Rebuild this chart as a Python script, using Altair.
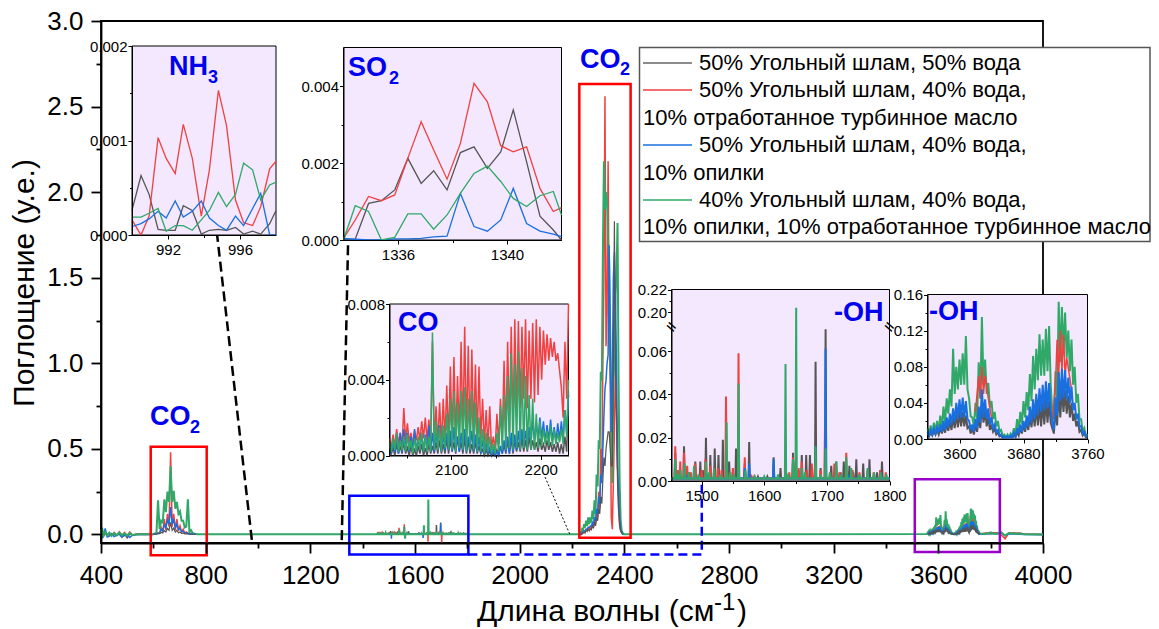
import altair as alt
import pandas as pd

FONT = "Liberation Sans"
X0, Y0, W, H = 101, 21, 942, 522
BLACK, RED, BLUE, GREEN = "#555555", "#F04040", "#1A6FE0", "#30A868"
LAV = "#F3E8FD"

# ---------- NH3 inset ----------
nh3_x = [990.0,990.5,990.95,991.45,991.9,992.4,992.85,993.35,993.85,994.3,994.8,995.25,995.75,996.2,996.7,997.15,997.65,998.0]
nh3_red = [.00016,0,.0002,.00103,.00081,.00065,.00117,.00081,.0002,.00069,.00153,.00116,.00037,.00013,.0001,.0003,.0007,.00078]
nh3_black = [.00026,.00063,.00043,.00006,.00005,.00005,.00031,.00026,.00001,.00005,.00006,.00005,.00008,.00001,.00004,.00001,.00012,.00026]
nh3_blue = [.00009,.00012,.00017,.00025,.00018,.00036,.00019,.00025,.00036,.00018,.0001,.00005,.0002,.0001,.00028,.00044,0,0]
nh3_green = [.00019,.00019,.00023,.00028,.00004,.0001,.0001,.00005,.00016,.00026,.00045,.0003,.00043,.00076,.00069,.00037,.00053,.00056]

# ---------- SO2 inset ----------
so2_x = [1334,1334.43,1334.92,1335.39,1335.88,1336.36,1336.85,1337.31,1337.8,1338.29,1338.79,1339.28,1339.77,1340.23,1340.72,1341.21,1341.7,1342]
so2_red = [.00004,.00052,.00113,.00102,.00117,.00212,.00307,.00234,.00158,.00251,.00407,.00359,.00245,.00229,.00242,.00134,.00074,.00084]
so2_black = [0,.00002,.00095,.00102,.0013,.00212,.00147,.0018,.0013,.00227,.00242,.00186,.00229,.00338,.00203,.00062,.00026,0]
so2_blue = [.00004,.00002,0,0,.00003,.00003,.00004,.00008,.0001,.00121,.00035,.00023,.00052,.00134,.00043,.00023,.00015,.00009]
so2_green = [0,.00089,.00074,0,.00007,.00068,.00068,.00028,.00065,.00121,.00173,.00192,.00152,.00108,.00087,.00115,.00126,.00065]

# ---------- CO inset, 1e-4 units, wavenumbers 2031, 2033 ... 2231 ----------
co_x = list(range(2031, 2232, 2))
co_red = [9,4,11,5,14,6,12,5,25,8,17,7,12,6,13,8,15,8,18,9,
          20,8,19,6,60,5,26,6,28,5,30,8,37,7,47,8,52,8,42,10,
          60,9,68,10,58,8,56,9,48,8,47,8,30,6,24,5,26,4,10,3,
          22,6,30,8,50,9,60,12,68,14,72,20,71,25,68,30,72,25,66,30,
          70,28,72,32,68,40,66,48,64,50,62,52,60,50,54,45,36,20,60,30,80]
co_green = [7,2,9,3,12,2,8,3,10,2,11,3,8,1,9,2,10,3,12,2,
            10,2,10,2,65,3,18,3,15,2,16,4,22,3,30,3,34,2,28,4,
            34,3,36,2,30,3,34,3,28,2,20,2,14,1,12,2,10,1,6,1,
            12,2,26,3,32,3,42,4,54,3,48,4,55,3,46,4,42,3,32,3,
            30,3,22,4,18,5,14,6,13,5,16,5,14,6,12,7,14,6,24,10,40]
co_blue = [6,1,8,2,10,1,12,2,14,3,12,2,10,3,14,2,9,3,12,2,
           11,2,16,3,12,2,13,3,16,2,11,3,12,3,13,2,15,3,10,2,
           12,3,14,2,10,3,13,2,11,2,10,1,8,1,7,1,4,0,3,0,
           2,0,5,1,8,2,10,1,12,2,11,3,13,3,14,4,13,5,15,6,
           19,8,17,8,20,9,18,7,16,8,19,8,15,7,17,8,18,9,24,12,32]
co_black = [5,1,4,0,6,1,5,1,7,1,4,0,5,0,3,0,5,1,6,0,
            4,0,6,1,5,1,7,1,8,1,6,1,9,1,8,2,7,1,10,2,
            7,1,9,1,8,1,6,1,7,1,5,1,3,0,3,0,2,0,1,0,
            3,0,5,1,6,1,8,1,9,1,8,2,7,2,9,2,8,2,10,3,
            8,3,7,2,9,3,6,2,8,3,7,2,6,2,7,1,6,1,10,2,34]

# ---------- 1450-1800 inset: spike positions and heights ----------
oh1_black_x = [1458,1472,1490,1498,1507,1514,1521,1527,1534,1544,1555,1569,1576,1615,1626,1646,1660,1667,1673,1682,1698,1707,1715,1727,1736,1747,1758,1768,1788,
               1480,1502,1540,1590,1605,1635,1655,1690,1722,1742,1780]
oh1_black_y = [.013,.016,.009,.009,.020,.012,.015,.012,.019,.009,.015,.008,.018,.011,.006,.013,.012,.012,.012,.055,.070,.007,.009,.009,.007,.010,.008,.010,.009,
               .004,.005,.006,.002,.002,.004,.005,.006,.004,.004,.004]
oh1_red_x = [1458,1466,1472,1477,1490,1506,1514,1526,1539,1550,1559,1569,1584,1615,1646,1650,1660,1676,1681,1697,1712,1731,1741,1765,1794,
             1462,1483,1500,1520,1532,1545,1580,1640,1655,1668,1690,1705,1720,1752,1775,1785]
oh1_red_y = [.016,.009,.013,.007,.008,.010,.007,.006,.039,.006,.059,.011,.002,.005,.011,.009,.009,.008,.007,.024,.008,.013,.005,.005,.004,
             .005,.004,.005,.005,.005,.004,.002,.004,.006,.005,.005,.004,.004,.004,.004,.005]
oh1_blue_x = [1476,1510,1520,1540,1569,1576,1615,1650,1698,1735]
oh1_blue_y = [.002,.002,.002,.003,.006,.008,.010,.003,.061,.002]
oh1_green_x = [1458,1466,1473,1488,1507,1520,1540,1559,1570,1634,1646,1651,1660,1682,1698,1715,1731,1739,1765,1786,
               1462,1480,1495,1512,1530,1546,1552,1585,1600,1622,1638,1665,1690,1705,1722,1752,1775,1795]
oh1_green_y = [.010,.005,.008,.007,.009,.006,.027,.045,.005,.054,.010,.204,.006,.016,.015,.009,.011,.006,.006,.004,
               .003,.004,.003,.004,.003,.004,.003,.002,.002,.003,.003,.004,.003,.004,.003,.003,.004,.003]

# ---------- 3560-3760 inset, 1e-3 units, wavenumbers 3560, 3562 ... 3760 ----------
oh2_x = list(range(3560, 3761, 2))
oh2_green = [12,5,15,6,18,8,20,9,26,12,36,18,45,28,55,36,100,50,80,55,
             88,60,95,60,114,55,45,25,24,14,40,22,85,45,135,60,88,50,62,35,
             42,22,30,14,20,8,10,4,5,2,5,2,6,3,12,5,22,10,30,16,
             42,24,52,32,72,42,92,55,100,65,116,70,110,70,122,75,125,60,30,22,
             75,45,152,85,146,95,140,90,120,75,110,60,80,40,50,22,22,8,12,4,5]
oh2_blue = [8,4,10,5,12,6,13,7,16,8,20,10,24,13,28,16,34,19,40,22,
            44,24,46,24,42,22,20,10,16,8,22,12,36,18,55,24,44,22,34,16,
            24,12,16,8,10,4,5,2,3,1,3,1,4,2,7,3,12,6,16,8,
            20,11,26,14,36,18,44,22,50,26,56,30,60,32,64,34,62,32,18,10,
            46,26,74,42,78,45,76,44,68,40,58,32,40,22,28,14,14,6,8,3,3]
oh2_black = [6,3,7,4,9,5,10,5,12,6,14,7,17,9,20,10,24,12,28,13,
             30,14,30,14,26,12,14,6,12,5,16,8,24,12,38,18,32,14,24,10,
             16,8,11,5,7,3,4,1,2,1,2,1,3,1,5,2,8,4,12,6,
             16,8,20,10,26,13,30,14,36,15,38,14,40,16,44,18,42,18,12,6,
             34,15,52,24,56,30,54,28,48,24,40,20,28,14,20,8,10,4,6,2,2]
oh2_red_x = [3560,3590,3608,3620,3624,3626,3628,3630,3632,3636,3640,3650,3660,3680,3700,3712,3716,3720,3722,3724,3726,3728,3730,3732,3734,3740,3750,3760]
oh2_red = [9,35,50,30,70,45,80,50,70,45,24,8,3,30,55,70,20,60,110,70,120,75,115,70,90,55,18,3]

# ---------- main spectrum: 600-762 band, 1e-3 units ----------
a_x = list(range(600, 763, 6))
a_green = [3,6,10,200,30,80,70,205,130,250,190,400,190,255,150,190,120,135,80,80,40,45,205,12,25,8,5,2]
a_blue = [1,2,4,6,8,30,20,55,40,85,60,160,60,90,40,60,30,35,18,18,8,10,6,4,3,2,1,1]
a_black = [1,1,2,4,5,12,8,22,14,35,24,70,24,38,14,24,10,14,6,8,3,4,3,2,1,1,1,1]
a_red = [1,3,5,10,8,40,15,90,25,120,45,480,45,120,25,90,20,50,12,30,8,15,8,5,4,3,2,1]

# ---------- main spectrum: 2230-2394 band, 1e-2 units ----------
b_x = list(range(2230, 2395, 4))
b_green = [1,1,3,2,6,4,8,5,10,6,10,7,14,9,20,12,35,28,55,50,95,90,165,218,190,200,195,170,160,120,70,30,90,100,140,150,182,90,30,8,2,1]
b_blue = [0,0,1,1,2,2,3,3,4,4,5,5,7,6,10,8,15,12,22,18,35,30,50,70,85,90,100,105,169,110,60,90,150,165,140,100,40,25,10,3,1,0]
b_black = [0,0,0,1,1,1,2,2,3,2,3,3,5,4,7,5,10,8,15,12,22,18,32,45,40,50,55,60,60,50,40,40,100,183,100,70,30,15,6,2,1,0]
b_red = [0,0,1,1,2,1,3,2,4,3,4,3,6,4,9,6,14,10,25,15,50,35,100,150,256,110,130,218,130,90,10,3,30,60,100,70,40,15,5,2,1,0]

# ---------- main spectrum: low noise at the two ends, 1e-3 units ----------
n1_x = [400,404,410,416,424,432,440,450,460,470,480,490,500,510,520,540,600]
n1_green = [0,40,-5,15,-5,10,-8,8,-5,12,-4,6,-6,8,-3,1,2]
n1_blue = [0,-20,-10,35,-15,-10,5,-12,-5,3,-14,-6,-3,-18,-4,0,0]
n1_black = [0,10,-8,5,-10,6,-6,4,-6,3,-16,5,-20,3,-4,1,0]
n1_red = [0,15,-6,10,-5,8,-6,12,-4,16,-6,12,-8,15,-3,2,1]
n2_x = [3760,3780,3800,3820,3840,3855,3870,3890,3910,3930,4000]
n2_green = [5,4,8,3,12,-6,8,4,5,1,0]
n2_red = [3,8,4,10,-2,-25,10,6,8,3,0]
n2_black = [3,4,12,5,14,-8,6,8,4,1,0]
n2_blue = [2,3,6,2,8,-5,3,2,1,0,0]
gap_x = [770,1000,1440,1802,2226,2398,3556]
gap_green = [.001,.001,.001,.001,.001,.001,.002]
dip_red_x, dip_red_y = [1650,1702], [-.043,-.05]
dip_blue_x, dip_blue_y = [1510,1631], [-.025,-.02]
dip_green_x, dip_green_y = [1562], [-.025]

legend_lines = ["50% Угольный шлам, 50% вода", "50% Угольный шлам, 40% вода,",
                "10% отработанное турбинное масло", "50% Угольный шлам, 40% вода,",
                "10% опилки", "40% Угольный шлам, 40% вода,",
                "10% опилки, 10% отработанное турбинное масло"]


def mul(v, k):
    return [round(a * k, 6) for a in v]


def spikes(xs, ys, lo=1452, hi=1800, floor=.0012):
    pts = [(lo, floor), (hi, floor)]
    for x, y in zip(xs, ys):
        pts += [(x - 1, floor), (x, y), (x + 1, floor)]
    pts.sort()
    return [p[0] for p in pts], [p[1] for p in pts]


def frame(*segs):
    rows = []
    for i, (xs, ys) in enumerate(segs):
        rows += [{"x": a, "y": b, "seg": i} for a, b in zip(xs, ys)]
    return pd.DataFrame(rows)


def scales(xd, xr, yd, yr):
    return (alt.Scale(domain=xd, range=[v - X0 for v in xr], nice=False, zero=False),
            alt.Scale(domain=yd, range=[v - Y0 for v in yr], nice=False, zero=False))


def series(df, sc, color, width=1.5):
    return alt.Chart(df).mark_line(color=color, strokeWidth=width, strokeJoin="miter", strokeMiterLimit=4).encode(
        x=alt.X("x:Q", scale=sc[0], axis=None),
        y=alt.Y("y:Q", scale=sc[1], axis=None),
        detail="seg:N")


def rect(sc, x1, x2, y1, y2, **kw):
    d = pd.DataFrame([{"x": x1, "x2": x2, "y": y1, "y2": y2}])
    return alt.Chart(d).mark_rect(**kw).encode(
        x=alt.X("x:Q", scale=sc[0], axis=None), x2="x2:Q",
        y=alt.Y("y:Q", scale=sc[1], axis=None), y2="y2:Q")


def axis_kw(values, fmt, size, tick, width, dom, labels=True, **kw):
    return alt.Axis(values=values, format=fmt, title=None, grid=False, labels=labels, domain=dom,
                    domainColor="black", domainWidth=width, tickColor="black", tickSize=tick, tickWidth=width,
                    labelFont=FONT, labelFontSize=size, labelColor="black", labelOverlap=False,
                    labelFlush=False, labelBound=False, zindex=1, **kw)


def axes(sc, xaxis, yaxis, xd, yd):
    d = pd.DataFrame([{"x": xd[0], "y": yd[0]}])
    return alt.Chart(d).mark_point(opacity=0, size=1).encode(
        x=alt.X("x:Q", scale=sc[0], axis=xaxis), y=alt.Y("y:Q", scale=sc[1], axis=yaxis))


def label(text, px, py, size=25, color="black", bold=False, align="left", angle=0):
    kw = {"angle": angle} if angle else {}
    return alt.Chart(alt.Data(values=[{}])).mark_text(
        text=text, font=FONT, fontSize=size, color=color, fontWeight="bold" if bold else "normal",
        align=align, baseline="middle", **kw).encode(x=alt.value(px - X0), y=alt.value(py - Y0))


def path(sc, xs, ys, color, width, dash=None):
    d = pd.DataFrame({"x": xs, "y": ys, "i": range(len(xs))})
    kw = {"strokeDash": dash} if dash else {}
    return alt.Chart(d).mark_line(color=color, strokeWidth=width, **kw).encode(
        x=alt.X("x:Q", scale=sc[0], axis=None), y=alt.Y("y:Q", scale=sc[1], axis=None), order="i:Q")


def inset(xd, xr, yd, yr, drawn, xmaj, xmin, ymaj, ymin, fmt):
    sc = scales(xd, xr, yd, yr)
    bottom, left = yr[0], xr[0]
    off_x = -(Y0 + H - bottom)
    off_y = -(left - X0)
    out = [rect(sc, xd[0], xd[-1], yd[0], yd[-1], fill=LAV, stroke="black", strokeWidth=1)]
    out += [series(df, sc, c, w) for df, c, w in drawn]
    out.append(axes(sc,
                    axis_kw(xmaj, "d", 15, 4, 1, True, orient="bottom", offset=off_x, labelPadding=3),
                    axis_kw(ymaj, fmt, 15, 4, 1, True, orient="left", offset=off_y, labelPadding=1),
                    xd, yd))
    out.append(axes(sc,
                    axis_kw(xmin, "d", 15, 2.5, 1, False, labels=False, orient="bottom", offset=off_x),
                    axis_kw(ymin, fmt, 15, 2.5, 1, False, labels=False, orient="left", offset=off_y),
                    xd, yd))
    return out, sc


layers = []

# main spectrum ----------------------------------------------------------
main_sc = (alt.Scale(domain=[400, 4000], range=[0, W], nice=False, zero=False),
           alt.Scale(domain=[-0.05, 3.0], range=[H, 0], nice=False, zero=False))

oh1_k = spikes(oh1_black_x, oh1_black_y)
oh1_r = spikes(oh1_red_x + dip_red_x, oh1_red_y + dip_red_y)
oh1_b = spikes(oh1_blue_x + dip_blue_x, oh1_blue_y + dip_blue_y)
oh1_g = spikes(oh1_green_x + dip_green_x, oh1_green_y + dip_green_y)

layers.append(series(frame((n1_x, mul(n1_black, .001)), oh1_k, (n2_x, mul(n2_black, .001))), main_sc, BLACK))
layers.append(series(frame((n1_x, mul(n1_red, .001)), (a_x, mul(a_red, .001)), oh1_r, (b_x, mul(b_red, .01)),
                           (oh2_red_x, mul(oh2_red, .001)), (n2_x, mul(n2_red, .001))), main_sc, RED))
layers.append(series(frame((n1_x, mul(n1_blue, .001)), oh1_b, (n2_x, mul(n2_blue, .001))), main_sc, BLUE))
green_x = n1_x + a_x + gap_x[:3] + oh1_g[0] + gap_x[3:5] + b_x + gap_x[5:] + oh2_x + n2_x
green_y = (mul(n1_green, .001) + mul(a_green, .001) + gap_green[:3] + oh1_g[1] + gap_green[3:5]
           + mul(b_green, .01) + gap_green[5:] + mul(oh2_green, .001) + mul(n2_green, .001))
layers.append(series(frame((green_x, green_y)), main_sc, GREEN, 2))
layers.append(series(frame((a_x, mul(a_blue, .001)), (b_x, mul(b_blue, .01)), (oh2_x, mul(oh2_blue, .001))), main_sc, BLUE, 1.5))
layers.append(series(frame((a_x, mul(a_black, .001)), (b_x, mul(b_black, .01)), (oh2_x, mul(oh2_black, .001))), main_sc, BLACK, 1.2))

layers.append(axes(main_sc,
                   axis_kw(list(range(400, 4001, 400)), "d", 26, 10, 1.8, True, orient="bottom", labelPadding=9),
                   axis_kw([0, .5, 1, 1.5, 2, 2.5, 3], ".1f", 26, 10, 1.8, True, orient="left", labelPadding=8),
                   [400, 4000], [-.05, 3]))
layers.append(axes(main_sc,
                   axis_kw(list(range(600, 4000, 400)), "d", 26, 5, 1.8, False, labels=False, orient="bottom"),
                   axis_kw([.25, .75, 1.25, 1.75, 2.25, 2.75], ".2f", 26, 5, 1.8, False, labels=False, orient="left"),
                   [400, 4000], [-.05, 3]))

# boxes and leader lines -------------------------------------------------
layers.append(rect(main_sc, 590, 804, -.121, .512, fillOpacity=0, stroke="#FF0000", strokeWidth=2.5))
layers.append(rect(main_sc, 1349, 1804, -.117, .226, fillOpacity=0, stroke="#0000FF", strokeWidth=2.5))
layers.append(rect(main_sc, 2228, 2424, -.02, 2.632, fillOpacity=0, stroke="#FF0000", strokeWidth=2.5))
layers.append(rect(main_sc, 3510, 3835, -.102, .323, fillOpacity=0, stroke="#9900CC", strokeWidth=2.5))
layers.append(path(main_sc, [1804, 2696, 2696], [-.117, -.117, .31], "#0000FF", 2.5, [9, 5]))
layers.append(path(main_sc, [836, 977], [1.855, -.04], "black", 2.5, [10, 5]))
layers.append(path(main_sc, [1344, 1320], [1.69, -.04], "black", 2.5, [10, 5]))
layers.append(path(main_sc, [2097, 2192], [.335, 0], "black", 1, [2, 2]))

# insets -----------------------------------------------------------------
nh3, _ = inset([990, 998], [132, 276], [0, .002], [235, 46],
               [(frame((nh3_x, nh3_black)), BLACK, 1.3), (frame((nh3_x, nh3_red)), RED, 1.3),
                (frame((nh3_x, nh3_blue)), BLUE, 1.3), (frame((nh3_x, nh3_green)), GREEN, 1.3)],
               [992, 996], [994], [0, .001, .002], [.0005, .0015], ".3f")
layers += nh3
so2, _ = inset([1334, 1342], [343.5, 561.5], [0, .005], [240, 47.5],
               [(frame((so2_x, so2_black)), BLACK, 1.3), (frame((so2_x, so2_red)), RED, 1.3),
                (frame((so2_x, so2_blue)), BLUE, 1.3), (frame((so2_x, so2_green)), GREEN, 1.3)],
               [1336, 1340], [1338], [0, .002, .004], [.001, .003], ".3f")
layers += so2
co, _ = inset([2031, 2231], [389.5, 568.5], [0, .008], [455.5, 304],
              [(frame((co_x, mul(co_black, .0001))), BLACK, 1.5), (frame((co_x, mul(co_red, .0001))), RED, 1.5),
               (frame((co_x, mul(co_blue, .0001))), BLUE, 1.5), (frame((co_x, mul(co_green, .0001))), GREEN, 1.5)],
              [2100, 2200], [2050, 2150], [0, .004, .008], [.002, .006], ".3f")
layers += co
oh1, oh1_sc = inset([1452, 1800], [671.5, 889.5], [0, .0708, .187, .22], [481, 327.6, 327.3, 289.5],
                    [(frame(spikes(oh1_black_x, oh1_black_y)), BLACK, 2),
                     (frame(spikes(oh1_red_x, oh1_red_y)), RED, 2),
                     (frame(spikes(oh1_blue_x, oh1_blue_y)), BLUE, 2),
                     (frame(spikes(oh1_green_x, oh1_green_y)), GREEN, 2)],
                    [1500, 1600, 1700, 1800], [1550, 1650, 1750],
                    [0, .02, .04, .06, .20, .22], [.01, .03, .05, .21], ".2f")
layers += oh1
oh2, _ = inset([3560, 3760], [927.5, 1087.5], [0, .16], [439, 294.5],
               [(frame((oh2_x, mul(oh2_green, .001))), GREEN, 2),
                (frame((oh2_red_x[3:11], mul(oh2_red[3:11], .001)),
                       (oh2_red_x[16:26], mul(oh2_red[16:26], .001))), RED, 1.5),
                (frame((oh2_x, mul(oh2_black, .001))), BLACK, 2),
                (frame((oh2_x, mul(oh2_blue, .001))), BLUE, 2)],
               [3600, 3680, 3760], [3640, 3720], [0, .04, .08, .12, .16], [.02, .06, .10, .14], ".2f")
layers += oh2

# axis-break marks on the 1450-1800 inset
for bx in (671.5, 889.5):
    layers.append(label("//", bx, 327, 12, "black", True, "center", 300))

# blue captions ----------------------------------------------------------
CAP = "#0000F0"
for text, px, py, size in [("NH", 169, 67, 27), ("3", 208, 78, 18), ("SO", 348, 68, 27), ("2", 389, 79, 18),
                           ("CO", 398, 323, 27), ("-OH", 834, 313, 27), ("-OH", 929, 312, 27),
                           ("CO", 580, 60, 27), ("2", 620, 70, 18), ("CO", 150, 417, 27), ("2", 190, 428, 18)]:
    layers.append(label(text, px, py, size, CAP, True))

# axis titles ------------------------------------------------------------
layers.append(label("Поглощение (у.е.)", 25, 283, 30, angle=270, align="center"))
layers.append(label("Длина волны (см", 477, 612, 30))
layers.append(label("-1", 714, 603, 24))
layers.append(label(")", 737, 612, 30))

# legend -----------------------------------------------------------------
layers.append(alt.Chart(alt.Data(values=[{}])).mark_rect(fill="white", stroke="#555555", strokeWidth=1.5).encode(
    x=alt.value(639.5 - X0), x2=alt.value(1150 - X0), y=alt.value(47.5 - Y0), y2=alt.value(241.5 - Y0)))
for color, py in [("#666666", 63), (RED, 90), (BLUE, 145), (GREEN, 200)]:
    layers.append(alt.Chart(alt.Data(values=[{}])).mark_rule(color=color, strokeWidth=1.5).encode(
        x=alt.value(643 - X0), x2=alt.value(692 - X0), y=alt.value(py - Y0)))
for text, px, py in zip(legend_lines, [699, 699, 643, 699, 643, 699, 643], [63, 90, 118, 145, 173, 200, 227]):
    layers.append(label(text, px, py, 22))

chart = alt.layer(*layers).resolve_scale(x="independent", y="independent").properties(
    width=W, height=H, autosize="none",
    padding={"left": X0 - 8, "top": Y0 - 8, "right": 108, "bottom": 84},
).configure_view(stroke="black", strokeWidth=1.8)

chart.save("out.html", embed_options={"renderer": "svg", "actions": False})
